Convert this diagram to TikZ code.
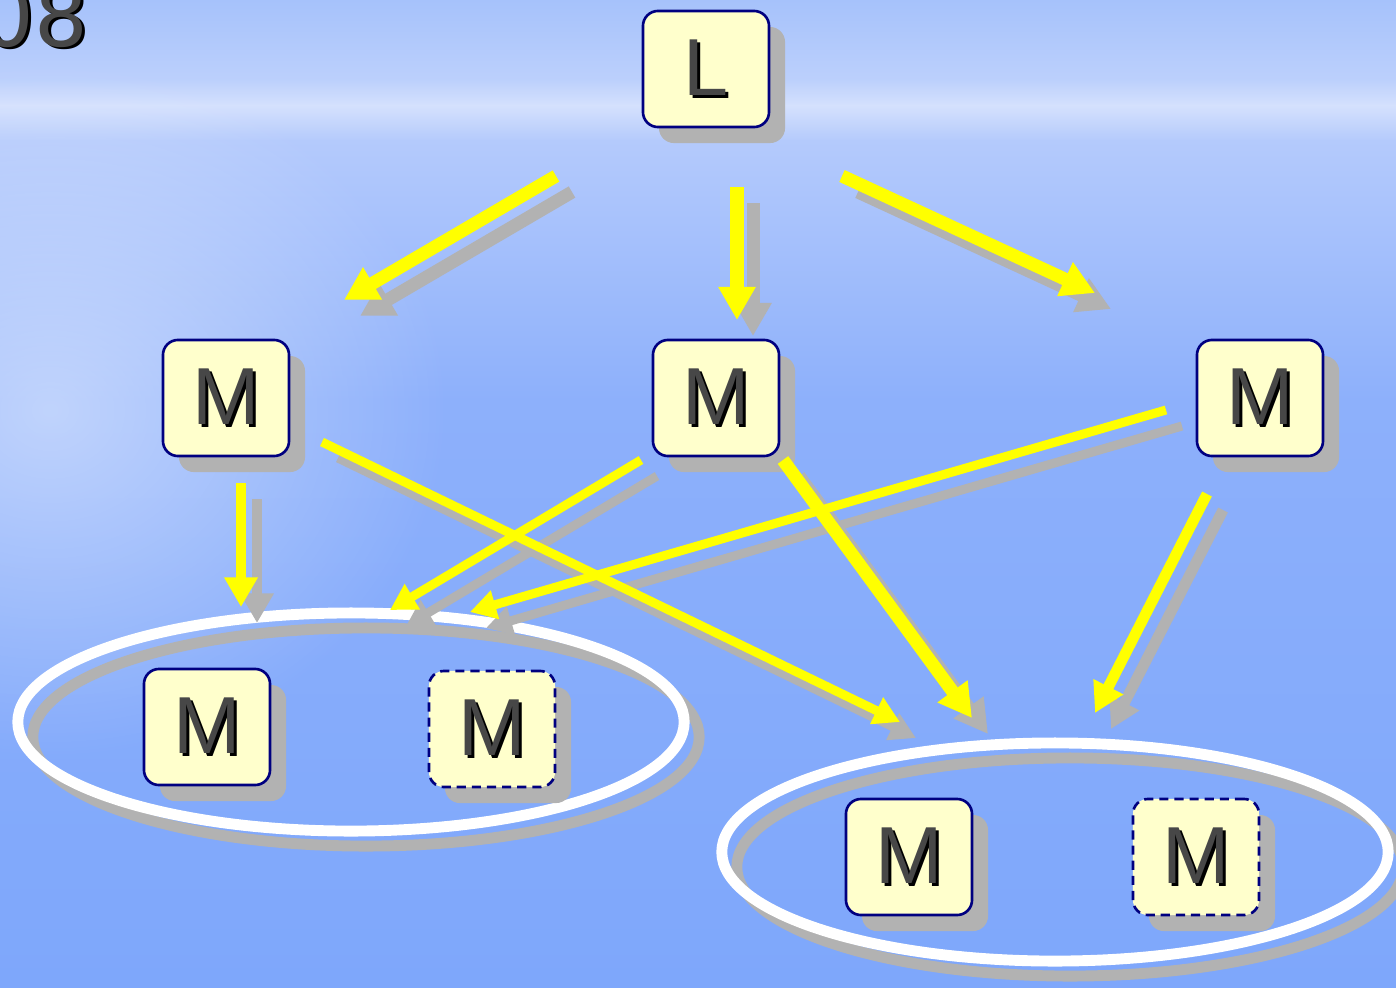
\documentclass[tikz,border=0pt]{standalone}
\usepackage{fontspec}
\setmainfont{Liberation Sans}
\newfontfamily\yrfont{DejaVu Sans}
\usetikzlibrary{arrows.meta,shapes.geometric,shadows,fadings}

\definecolor{nodefill}{HTML}{FFFFCC}
\definecolor{nodeedge}{HTML}{000080}
\definecolor{shgray}{HTML}{B2B2B2}
\definecolor{txtgray}{HTML}{474747}
\definecolor{arrowyellow}{HTML}{FFFF00}
\definecolor{bgA}{HTML}{A6C2FB}
\definecolor{bgB}{HTML}{BCD0FC}
\definecolor{bgC}{HTML}{D5E1FD}
\definecolor{bgD}{HTML}{B4CAFC}
\definecolor{bgE}{HTML}{8DB0FB}
\definecolor{bgF}{HTML}{7EA7FB}

\tikzfading[name=softglow, inner color=transparent!55, outer color=transparent!100]

\newcommand\shtext[1]{\rlap{\kern0.8pt\raisebox{-0.8pt}{\color{black}#1}}{\color{txtgray}#1}}

\tikzset{
  box/.style={rounded corners=0.15cm, draw=nodeedge, line width=0.75pt, fill=nodefill,
    minimum width=1.26cm, minimum height=1.16cm, inner sep=0pt,
    font=\fontsize{23}{23}\selectfont,
    drop shadow={shadow xshift=0.16cm, shadow yshift=-0.16cm, fill=shgray, opacity=1}},
  dbox/.style={box, dash pattern=on 2.6pt off 1.7pt},
  ring/.style={ellipse, draw=white, line width=3.1pt, minimum width=6.66cm, minimum height=2.18cm, inner sep=0pt},
  ringshadow/.style={ring, draw=shgray},
  wA/.style={line width=3.7pt, -{Triangle[length=9.4pt, width=10pt]}},
  wB/.style={line width=3.1pt, -{Triangle[length=8.4pt, width=9pt]}},
  wC/.style={line width=2.56pt, -{Triangle[length=7.4pt, width=8pt]}},
  yarrow/.style={draw=arrowyellow},
  sarrow/.style={draw=shgray, transform canvas={shift={(0.16cm,-0.16cm)}}},
}

\begin{document}
\begin{tikzpicture}[x=0.01cm, y=-0.01cm]
\useasboundingbox (0,0) rectangle (1396,987);
% background
\shade[top color=bgA, bottom color=bgB] (0,0) rectangle (1396,81);
\shade[top color=bgB, bottom color=bgC] (0,80) rectangle (1396,106);
\shade[top color=bgC, bottom color=bgD] (0,105) rectangle (1396,141);
\shade[top color=bgD, bottom color=bgE] (0,140) rectangle (1396,401);
\shade[top color=bgE, bottom color=bgF] (0,400) rectangle (1396,987);
\fill[white, path fading=softglow] (-350,60) rectangle (450,760);

% year text
\node[anchor=base east, font=\yrfont\fontsize{24}{24}\selectfont, inner sep=0pt] (yr) at (89,46) {\shtext{08}};

% ellipses
\node[ringshadow] (E1s) at (366,737) {};
\node[ring] (E1) at (351,722) {};
\node[ringshadow] (E2s) at (1070,867) {};
\node[ring] (E2) at (1055,852) {};

% nodes
\node[box] (L) at (706,69) {\shtext{L}};
\node[box] (M1) at (226,398) {\shtext{M}};
\node[box] (M2) at (716,398) {\shtext{M}};
\node[box] (M3) at (1260,398) {\shtext{M}};
\node[box] (M4) at (207,727) {\shtext{M}};
\node[dbox] (M5) at (492,729) {\shtext{M}};
\node[box] (M6) at (909,857) {\shtext{M}};
\node[dbox] (M7) at (1196,857) {\shtext{M}};

% arrow end points
\coordinate (a1s) at (556,176); \coordinate (a1e) at (344,300);
\coordinate (a2s) at (737,187); \coordinate (a2e) at (737,320);
\coordinate (a3s) at (842,176); \coordinate (a3e) at (1095,293);
\coordinate (a4s) at (241,483); \coordinate (a4e) at (241,607);
\coordinate (a5s) at (322,442); \coordinate (a5e) at (900,722);
\coordinate (a6s) at (641,460); \coordinate (a6e) at (390,610);
\coordinate (a7s) at (783,460); \coordinate (a7e) at (972,718);
\coordinate (a8s) at (1166,410); \coordinate (a8e) at (470,612);
\coordinate (a9s) at (1207,494); \coordinate (a9e) at (1095,713);

\foreach \s/\e/\w in {a1s/a1e/wA, a2s/a2e/wA, a3s/a3e/wA, a4s/a4e/wB, a5s/a5e/wC,
  a6s/a6e/wC, a7s/a7e/wA, a8s/a8e/wC, a9s/a9e/wB}
  \draw[sarrow, \w] (\s) -- (\e);
\foreach \s/\e/\w in {a1s/a1e/wA, a2s/a2e/wA, a3s/a3e/wA, a4s/a4e/wB, a5s/a5e/wC,
  a6s/a6e/wC, a7s/a7e/wA, a8s/a8e/wC, a9s/a9e/wB}
  \draw[yarrow, \w] (\s) -- (\e);
\end{tikzpicture}
\end{document}
